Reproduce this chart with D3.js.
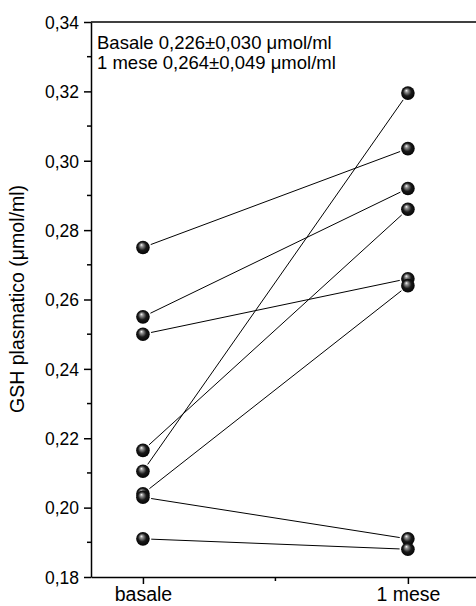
<html lang="en">
<head>
    <meta charset="UTF-8">
    <title>GSH plasmatico</title>
    <script src="https://cdn.jsdelivr.net/npm/d3@7"></script>
    <style>
        body { margin: 0; background: #fff; }
        text { font-family: "Liberation Sans", Arial, sans-serif; fill: #000; }
    </style>
</head>
<body>
    <script>
        // time points and paired subject values (basale -> 1 mese)
        var categories = ["basale", "1 mese"];
        var basale = [0.275, 0.255, 0.250, 0.2165, 0.2105, 0.2040, 0.2030, 0.1910];
        var mese1  = [0.3035, 0.2920, 0.2660, 0.2860, 0.3195, 0.2640, 0.1910, 0.1880];
        var yTicks = [0.18, 0.20, 0.22, 0.24, 0.26, 0.28, 0.30, 0.32, 0.34];
        var legendLines = ["Basale 0,226\u00b10,030 \u03bcmol/ml", "1 mese 0,264\u00b10,049 \u03bcmol/ml"];

        var width = 476,
            height = 606,
            padL = 91, padT = 22, padR = 476, padB = 577,
            r = 6.8;

        var x = d3.scaleLinear().domain([-0.196, 1.257]).range([padL, padR]);
        var y = d3.scaleLinear().domain([0.18, 0.34]).range([padB, padT]);

        var fmt = function(v) { return d3.format(".2f")(v).replace(".", ","); };

        var svg = d3.select("body").append("svg")
            .attr("width", width)
            .attr("height", height);

        var grad = svg.append("defs").append("radialGradient")
            .attr("id", "ball")
            .attr("cx", "50%").attr("cy", "50%").attr("r", "55%")
            .attr("fx", "38%").attr("fy", "30%");
        grad.append("stop").attr("offset", "0%").attr("stop-color", "#ffffff");
        grad.append("stop").attr("offset", "18%").attr("stop-color", "#9a9a9a");
        grad.append("stop").attr("offset", "55%").attr("stop-color", "#1a1a1a");
        grad.append("stop").attr("offset", "100%").attr("stop-color", "#000000");

        // top frame line
        svg.append("line")
            .attr("x1", padL).attr("x2", padR)
            .attr("y1", padT).attr("y2", padT)
            .attr("stroke", "#000").attr("stroke-width", 1.5);

        // y axis
        var yAxis = svg.append("g")
            .attr("transform", "translate(" + padL + ",0)")
            .call(d3.axisLeft(y).tickValues(yTicks).tickFormat(fmt).tickSize(7).tickSizeOuter(0));
        yAxis.select(".domain").attr("stroke-width", 1.5);
        yAxis.selectAll(".tick line").attr("stroke-width", 1.5);
        yAxis.selectAll("text").style("font-size", "17.5px").attr("x", -12).attr("dy", "0.36em");

        var minorY = yTicks.slice(0, -1).map(function(v) { return v + 0.01; });
        svg.append("g").selectAll("line").data(minorY).enter().append("line")
            .attr("x1", padL - 4).attr("x2", padL)
            .attr("y1", function(d) { return y(d); })
            .attr("y2", function(d) { return y(d); })
            .attr("stroke", "#000").attr("stroke-width", 1.5);

        // x axis
        var xAxis = svg.append("g")
            .attr("transform", "translate(0," + padB + ")")
            .call(d3.axisBottom(x).tickValues([0, 1])
                .tickFormat(function(d) { return categories[d]; })
                .tickSize(7).tickSizeOuter(0));
        xAxis.select(".domain").attr("stroke-width", 1.5);
        xAxis.selectAll(".tick line").attr("stroke-width", 1.5);
        xAxis.selectAll("text").style("font-size", "19.5px").attr("y", 10).attr("dy", "0.71em");

        svg.append("line")
            .attr("x1", x(0.5)).attr("x2", x(0.5))
            .attr("y1", padB).attr("y2", padB + 4)
            .attr("stroke", "#000").attr("stroke-width", 1.5);

        // y label
        svg.append("text")
            .attr("transform", "translate(24," + 299 + ") rotate(-90)")
            .attr("text-anchor", "middle")
            .style("font-size", "19.5px")
            .text("GSH plasmatico (\u03bcmol/ml)");

        // paired lines, trimmed at the balls
        var pairs = basale.map(function(b, i) { return [b, mese1[i]]; });
        svg.append("g").selectAll("line").data(pairs).enter().append("line")
            .each(function(d) {
                var x1 = x(0), y1 = y(d[0]), x2 = x(1), y2 = y(d[1]);
                var len = Math.hypot(x2 - x1, y2 - y1), k = (r + 1.5) / len;
                d3.select(this)
                    .attr("x1", x1 + (x2 - x1) * k).attr("y1", y1 + (y2 - y1) * k)
                    .attr("x2", x2 - (x2 - x1) * k).attr("y2", y2 - (y2 - y1) * k);
            })
            .attr("stroke", "#000").attr("stroke-width", 1);

        // balls
        var pts = [];
        basale.forEach(function(v) { pts.push([0, v]); });
        mese1.forEach(function(v) { pts.push([1, v]); });
        svg.append("g").selectAll("circle").data(pts).enter().append("circle")
            .attr("cx", function(d) { return x(d[0]); })
            .attr("cy", function(d) { return y(d[1]); })
            .attr("r", r)
            .attr("fill", "url(#ball)");

        // legend text
        svg.append("g").selectAll("text").data(legendLines).enter().append("text")
            .attr("x", 97)
            .attr("y", function(d, i) { return 49 + i * 20; })
            .style("font-size", "18.5px")
            .text(function(d) { return d; });
    </script>
</body>
</html>
